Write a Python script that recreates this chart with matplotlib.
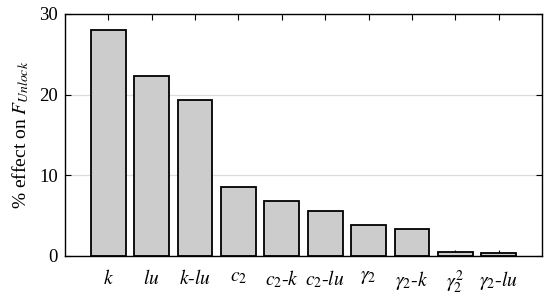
import matplotlib.pyplot as plt
import numpy as np

plt.rcParams['font.family'] = ['Liberation Serif', 'DejaVu Serif']
plt.rcParams['mathtext.fontset'] = 'stix'

# data
labels = [r'$k$', r'$lu$', r'$k$-$lu$', r'$c_2$', r'$c_2$-$k$', r'$c_2$-$lu$',
          r'$\gamma_2$', r'$\gamma_2$-$k$', r'$\gamma_2^2$', r'$\gamma_2$-$lu$']
effect = [28.0, 22.3, 19.4, 8.6, 6.8, 5.6, 3.8, 3.4, 0.5, 0.4]

fig = plt.figure(figsize=(5.5, 3.02), dpi=100)
ax = fig.add_axes([65 / 550, 46 / 302, 477 / 550, 242 / 302])

x = np.arange(1, len(effect) + 1)
ax.yaxis.grid(True, color='#dcdcdc', lw=0.9)
ax.set_axisbelow(True)
ax.bar(x, effect, width=0.8, color='#cccccc', edgecolor='black', lw=1.3, zorder=2)

ax.set_xlim(0, 11)
ax.set_ylim(0, 30)
ax.set_yticks([0, 10, 20, 30])
ax.set_xticks(x)
ax.set_xticklabels(labels, fontsize=14)
ax.tick_params(direction='in', top=True, right=True, length=4, width=0.8)
ax.tick_params(axis='y', labelsize=13.5, pad=5)
ax.tick_params(axis='x', pad=9)
ax.set_ylabel(r'% effect on $F_{Unlock}$', fontsize=14, labelpad=6)
for s in ax.spines.values():
    s.set_linewidth(1.0)

fig.savefig('out.png', dpi=100)
